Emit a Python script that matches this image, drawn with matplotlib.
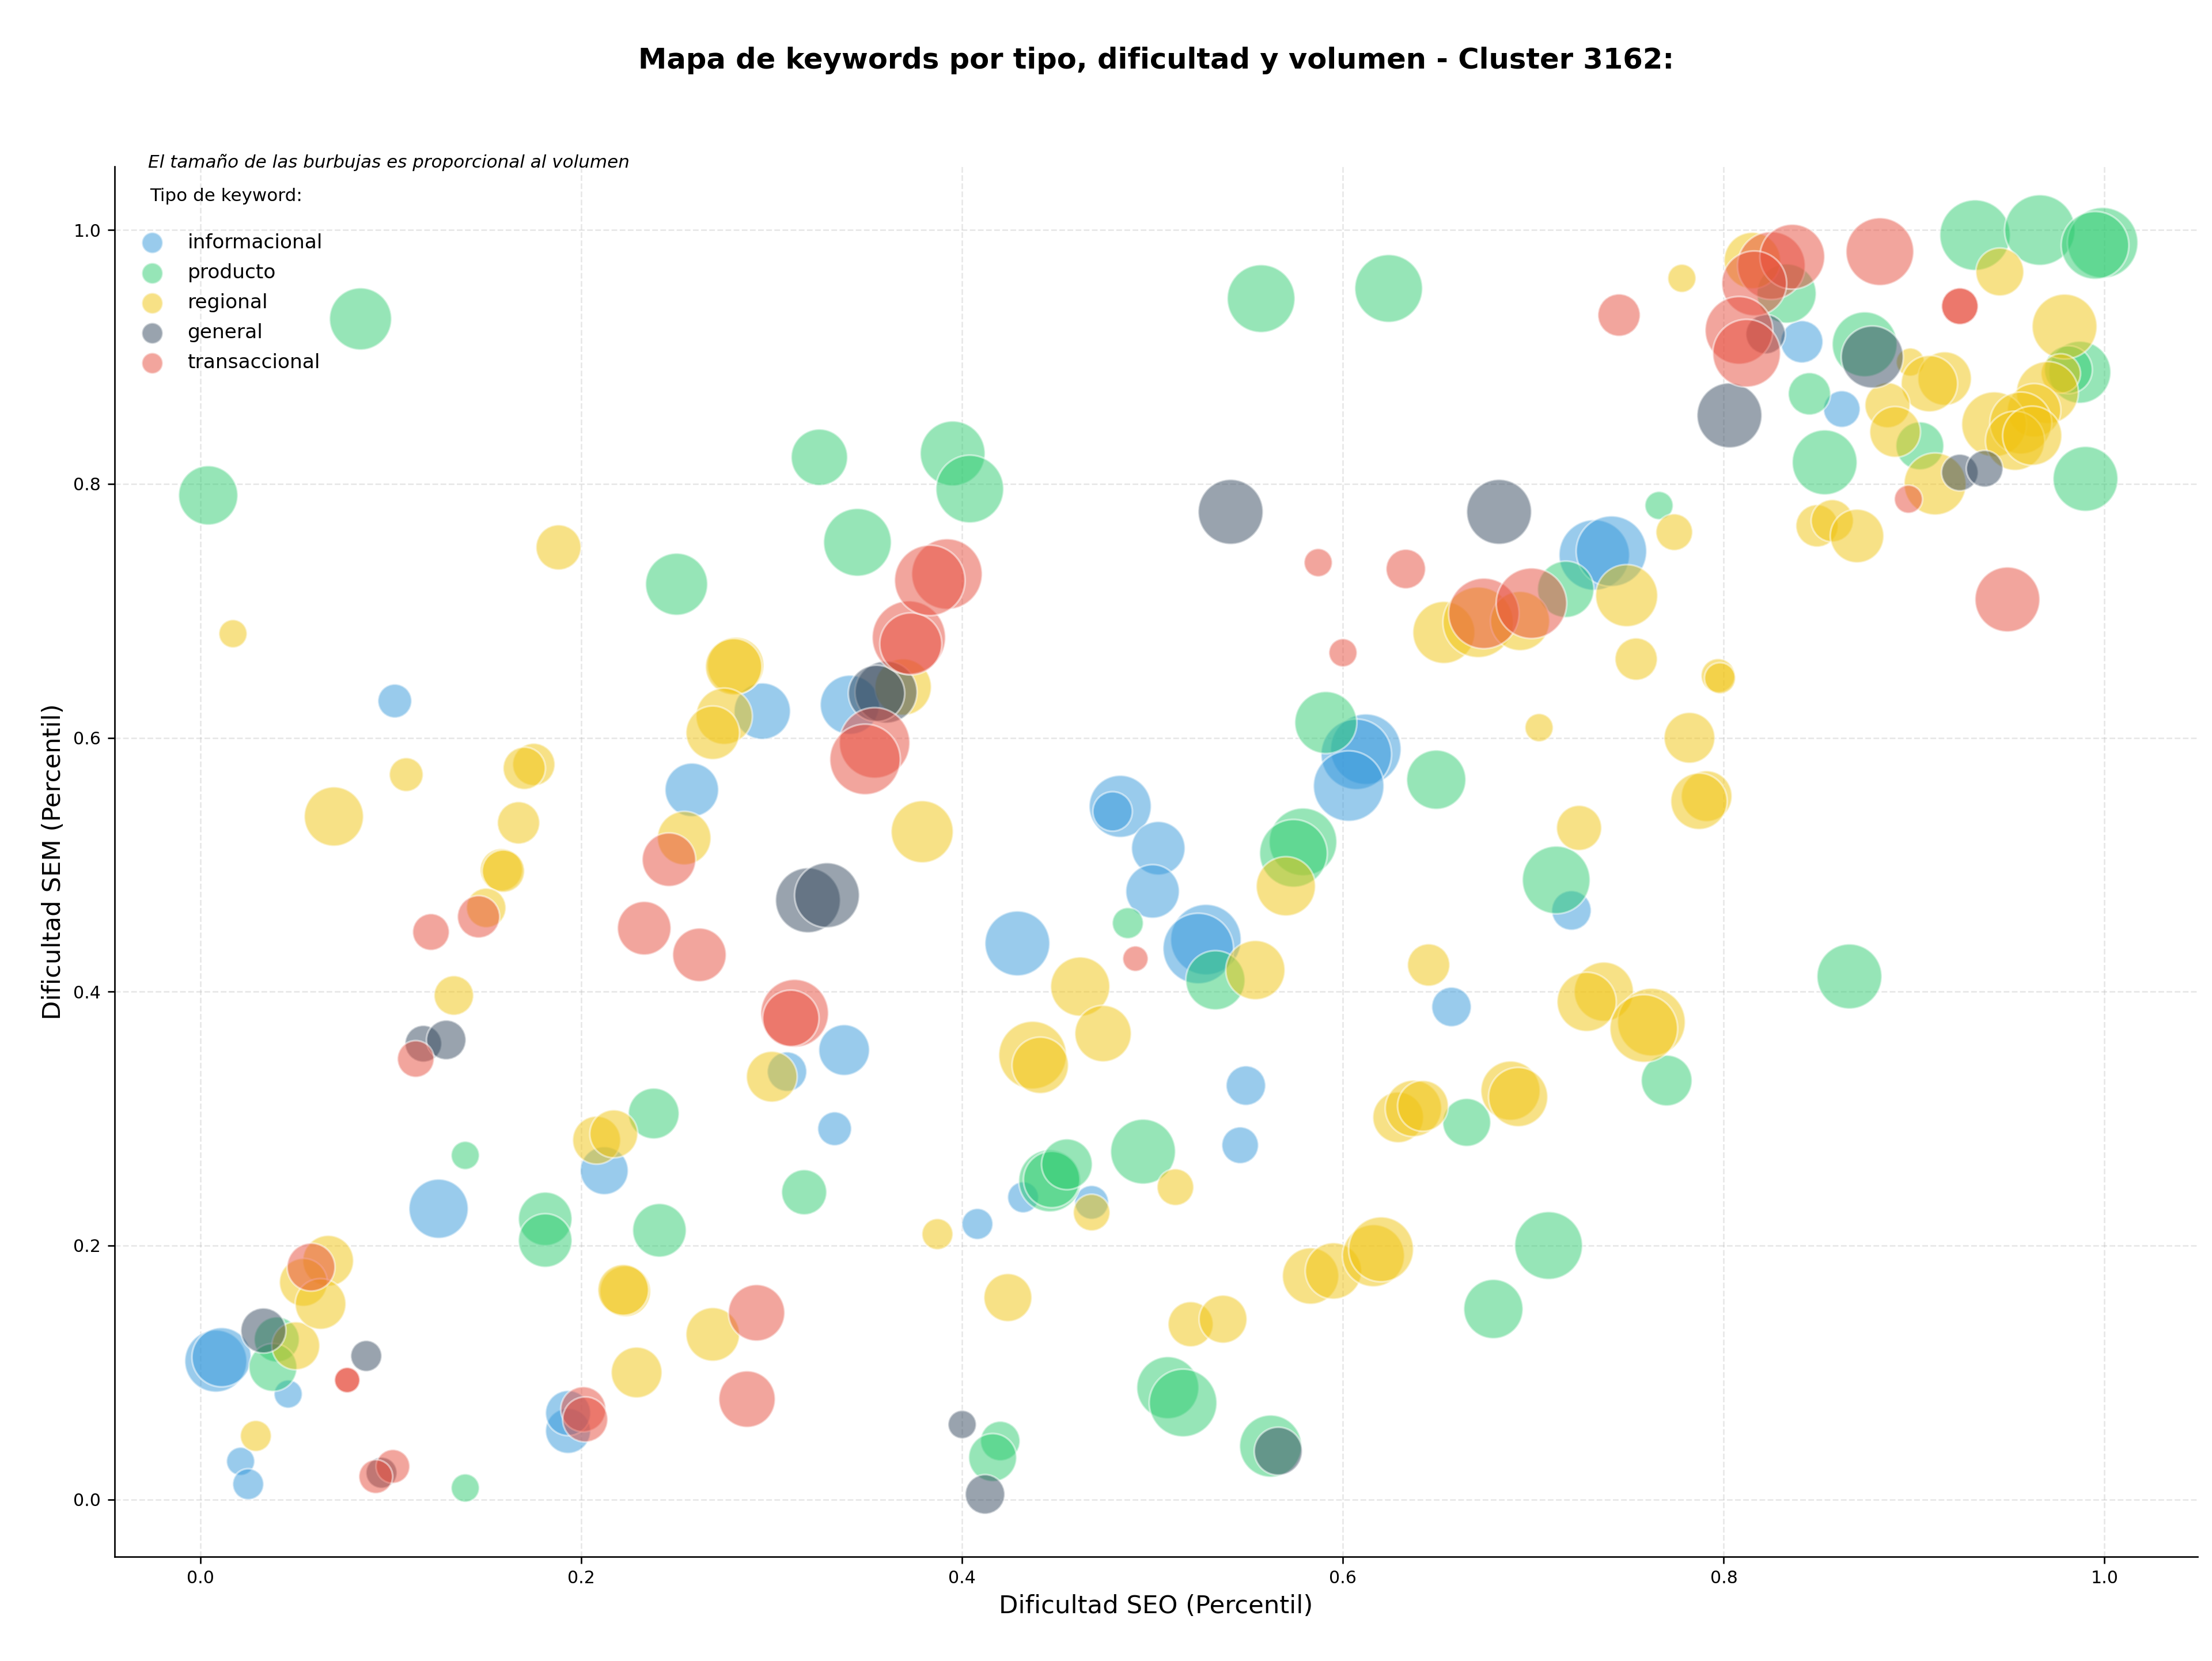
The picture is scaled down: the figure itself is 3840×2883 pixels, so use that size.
import matplotlib.pyplot as plt
import numpy as np

# Dificultad SEO / SEM (percentil) y volumen de busqueda por tipo de keyword
seo_informacional = [0.008, 0.011, 0.046, 0.021, 0.025, 0.125, 0.193, 0.193, 0.212, 0.333,
                     0.102, 0.295, 0.258, 0.341, 0.338, 0.308, 0.408, 0.432, 0.468, 0.546,
                     0.549, 0.483, 0.479, 0.503, 0.500, 0.429, 0.528, 0.524, 0.612, 0.607,
                     0.603, 0.657, 0.720, 0.732, 0.741, 0.841, 0.862]
sem_informacional = [0.109, 0.112, 0.083, 0.030, 0.012, 0.229, 0.054, 0.068, 0.259, 0.292,
                     0.629, 0.621, 0.559, 0.626, 0.354, 0.337, 0.217, 0.238, 0.234, 0.279,
                     0.326, 0.546, 0.542, 0.513, 0.479, 0.438, 0.441, 0.434, 0.591, 0.587,
                     0.562, 0.388, 0.464, 0.744, 0.747, 0.912, 0.859]
vol_informacional = [7270, 6550, 890, 890, 1240, 6550, 3480, 3480, 4030, 1620,
                     1620, 5870, 5220, 6550, 4610, 2490, 1240, 1240, 1620, 2040,
                     2490, 7270, 2490, 5220, 5220, 8010, 9610, 9610, 9610, 9610,
                     9610, 2490, 2490, 9610, 9610, 2970, 2040]

seo_producto = [0.084, 0.004, 0.250, 0.325, 0.395, 0.404, 0.345, 0.557, 0.624, 0.139,
                0.181, 0.181, 0.238, 0.241, 0.317, 0.139, 0.040, 0.038, 0.446, 0.447,
                0.455, 0.495, 0.665, 0.679, 0.708, 0.508, 0.516, 0.562, 0.420, 0.416,
                0.487, 0.533, 0.591, 0.649, 0.579, 0.574, 0.712, 0.866, 0.770, 0.717,
                0.766, 0.833, 0.932, 0.966, 0.999, 0.995, 0.987, 0.981, 0.874, 0.903,
                0.990, 0.845, 0.853]
sem_producto = [0.930, 0.791, 0.721, 0.821, 0.824, 0.796, 0.754, 0.946, 0.954, 0.271,
                0.221, 0.204, 0.304, 0.212, 0.242, 0.009, 0.126, 0.104, 0.251, 0.252,
                0.264, 0.274, 0.297, 0.150, 0.200, 0.088, 0.076, 0.042, 0.046, 0.033,
                0.454, 0.409, 0.612, 0.567, 0.518, 0.509, 0.488, 0.412, 0.330, 0.717,
                0.783, 0.950, 0.996, 1.000, 0.990, 0.988, 0.888, 0.890, 0.910, 0.830,
                0.804, 0.871, 0.817]
vol_producto = [7270, 6550, 7270, 5870, 8010, 8800, 8800, 8800, 8800, 890,
                5220, 5220, 4610, 5220, 3480, 890, 3480, 4030, 7270, 5870,
                4610, 8010, 4030, 6550, 8800, 7270, 8800, 7270, 2490, 4030,
                1240, 6550, 7270, 6550, 8800, 8800, 8800, 8010, 4610, 5870,
                890, 6550, 9610, 9610, 9610, 8800, 7270, 4030, 8010, 4030,
                8010, 2970, 8010]

seo_regional = [0.017, 0.188, 0.108, 0.070, 0.175, 0.170, 0.167, 0.158, 0.159, 0.150,
                0.133, 0.281, 0.280, 0.275, 0.269, 0.254, 0.300, 0.208, 0.217, 0.223,
                0.222, 0.229, 0.269, 0.029, 0.050, 0.067, 0.054, 0.063, 0.387, 0.468,
                0.512, 0.424, 0.520, 0.537, 0.583, 0.595, 0.616, 0.620, 0.629, 0.637,
                0.642, 0.688, 0.692, 0.369, 0.379, 0.554, 0.462, 0.474, 0.437, 0.441,
                0.570, 0.645, 0.653, 0.671, 0.693, 0.749, 0.774, 0.754, 0.797, 0.798,
                0.703, 0.782, 0.791, 0.787, 0.724, 0.737, 0.728, 0.762, 0.758, 0.778,
                0.815, 0.945, 0.979, 0.977, 0.970, 0.963, 0.942, 0.956, 0.953, 0.962,
                0.898, 0.916, 0.908, 0.886, 0.890, 0.911, 0.849, 0.857, 0.870]
sem_regional = [0.682, 0.750, 0.571, 0.538, 0.579, 0.576, 0.533, 0.496, 0.495, 0.466,
                0.397, 0.657, 0.656, 0.617, 0.604, 0.521, 0.333, 0.283, 0.288, 0.164,
                0.165, 0.100, 0.130, 0.050, 0.121, 0.188, 0.171, 0.154, 0.209, 0.226,
                0.246, 0.159, 0.138, 0.142, 0.176, 0.180, 0.192, 0.197, 0.301, 0.308,
                0.310, 0.322, 0.317, 0.640, 0.526, 0.417, 0.404, 0.367, 0.350, 0.342,
                0.483, 0.421, 0.683, 0.691, 0.692, 0.712, 0.762, 0.662, 0.649, 0.647,
                0.608, 0.600, 0.554, 0.550, 0.529, 0.400, 0.392, 0.376, 0.371, 0.962,
                0.976, 0.967, 0.924, 0.887, 0.872, 0.858, 0.847, 0.848, 0.834, 0.838,
                0.896, 0.883, 0.879, 0.862, 0.841, 0.800, 0.767, 0.771, 0.759]
vol_regional = [890, 3480, 1620, 6550, 2970, 2970, 2970, 2970, 2970, 2490,
                2490, 5870, 5870, 5870, 5220, 5220, 4610, 4030, 4030, 4610,
                4610, 4610, 5220, 1240, 4030, 4610, 4030, 4610, 1240, 2040,
                2040, 4030, 3480, 4030, 5870, 5870, 7270, 8010, 4610, 5870,
                4610, 6550, 6550, 5870, 7270, 6550, 6550, 5870, 8800, 5870,
                6550, 2970, 7270, 9610, 6550, 7270, 2040, 2970, 1620, 1240,
                890, 4610, 4610, 5870, 3480, 6550, 6550, 8800, 8800, 890,
                5870, 4030, 8010, 2490, 7270, 5220, 8010, 7270, 6550, 6550,
                890, 5220, 5870, 3480, 4610, 7270, 2970, 2970, 5220]

seo_general = [0.033, 0.087, 0.095, 0.117, 0.129, 0.319, 0.329, 0.360, 0.355, 0.400,
               0.412, 0.566, 0.541, 0.682, 0.803, 0.822, 0.878, 0.924, 0.937]
sem_general = [0.133, 0.113, 0.021, 0.359, 0.362, 0.472, 0.476, 0.636, 0.635, 0.059,
               0.004, 0.038, 0.778, 0.778, 0.854, 0.918, 0.900, 0.809, 0.812]
vol_general = [3480, 1240, 1240, 2040, 2490, 8010, 8010, 7270, 5870, 890,
               2490, 4030, 8010, 8010, 8010, 2490, 7270, 2040, 2040]

seo_transaccional = [0.077, 0.077, 0.101, 0.092, 0.058, 0.201, 0.202, 0.292, 0.287, 0.113,
                     0.121, 0.146, 0.233, 0.262, 0.246, 0.312, 0.310, 0.354, 0.349, 0.372,
                     0.373, 0.392, 0.383, 0.491, 0.600, 0.587, 0.633, 0.674, 0.699, 0.745,
                     0.825, 0.836, 0.816, 0.808, 0.812, 0.882, 0.924, 0.924, 0.897, 0.949]
sem_transaccional = [0.094, 0.094, 0.026, 0.018, 0.183, 0.071, 0.063, 0.147, 0.079, 0.347,
                     0.447, 0.459, 0.450, 0.429, 0.504, 0.383, 0.379, 0.596, 0.583, 0.679,
                     0.674, 0.729, 0.724, 0.426, 0.667, 0.738, 0.733, 0.698, 0.706, 0.933,
                     0.972, 0.979, 0.958, 0.921, 0.903, 0.983, 0.940, 0.940, 0.788, 0.709]
vol_transaccional = [580, 580, 1620, 1620, 4030, 3480, 3480, 5870, 5870, 2040,
                     2040, 2970, 5220, 5220, 5220, 8800, 5870, 9610, 9610, 10450,
                     7270, 9610, 9610, 580, 890, 890, 2490, 9610, 9610, 2970,
                     8800, 8010, 8010, 8800, 8800, 8800, 2040, 2040, 890, 8010]

tipos = ['informacional', 'producto', 'regional', 'general', 'transaccional']
colores = ['#3498db', '#2ecc71', '#f1c40f', '#34495e', '#e74c3c']

series = [
    (seo_informacional, sem_informacional, vol_informacional),
    (seo_producto, sem_producto, vol_producto),
    (seo_regional, sem_regional, vol_regional),
    (seo_general, sem_general, vol_general),
    (seo_transaccional, sem_transaccional, vol_transaccional),
]


def tamano(vol):
    # burbuja proporcional al volumen
    return 100 + np.array(vol) / 10000 * 1300


fig, ax = plt.subplots(figsize=(16, 2883 / 240), dpi=240)
fig.subplots_adjust(left=0.0517, right=0.9936, bottom=0.0629, top=0.8997)

for (seo, sem, vol), tipo, color in zip(series, tipos, colores):
    ax.scatter(seo, sem, s=tamano(vol), c=color, alpha=0.5,
               edgecolors='white', linewidths=1, label=tipo)

ax.set_xlim(-0.0453, 1.049)
ax.set_ylim(-0.045, 1.050)
ax.set_xticks(np.arange(0, 1.01, 0.2))
ax.set_yticks(np.arange(0, 1.01, 0.2))
ax.tick_params(labelsize=9)
ax.grid(True, linestyle='--', alpha=0.3)
ax.set_axisbelow(True)
ax.spines[['top', 'right']].set_visible(False)

ax.set_xlabel('Dificultad SEO (Percentil)', fontsize=13)
ax.set_ylabel('Dificultad SEM (Percentil)', fontsize=13)
ax.set_title('Mapa de keywords por tipo, dificultad y volumen - Cluster 3162:',
             fontsize=14.9, fontweight='bold', pad=51)

ax.text(0.0163, 1.003, 'El tamaño de las burbujas es proporcional al volumen',
        transform=ax.transAxes, fontsize=9.3, style='italic', va='center')
ax.text(0.0171, 0.9787, 'Tipo de keyword:', transform=ax.transAxes,
        fontsize=9.3, va='center')

leg = ax.legend(loc='upper left', bbox_to_anchor=(0, 0.965), frameon=False,
                fontsize=10.3, labelspacing=0.56)
for h in leg.legend_handles:
    h.set_sizes([120])

plt.savefig('out.png', dpi=240)
